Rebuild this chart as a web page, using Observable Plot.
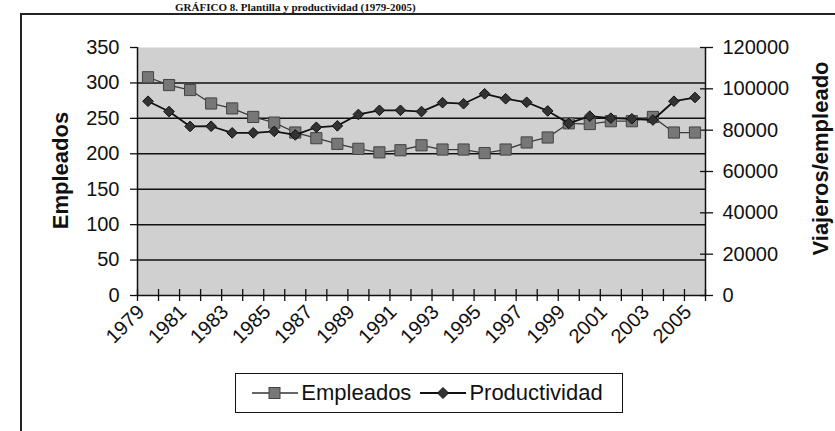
<!DOCTYPE html>
<html><head><meta charset="utf-8">
<script src="https://cdn.jsdelivr.net/npm/d3@7"></script>
<script src="https://cdn.jsdelivr.net/npm/@observablehq/plot@0.6"></script>
<style>
body{margin:0;background:#fff;}
#wrap{position:relative;width:835px;height:431px;overflow:hidden;font-family:"Liberation Sans",Arial,sans-serif;color:#111;}
#frame{position:absolute;left:20px;top:13px;width:830px;height:430px;border-top:2px solid #222;border-left:2px solid #222;}
#title{position:absolute;left:175px;top:1px;font:bold 11px/12px "Liberation Serif",serif;color:#111;white-space:nowrap;}
#chart{position:absolute;left:0;top:0;}
#legend{position:absolute;left:235px;top:373px;width:386px;height:38px;border:1.5px solid #111;background:#fff;display:flex;align-items:center;justify-content:center;font-size:22px;}
#legend svg{margin:0 3px;}
#legend span{margin-right:6px;}
</style></head>
<body>
<div id="wrap">
  <div id="frame"></div>
  <div id="title">GRÁFICO 8. Plantilla y productividad (1979-2005)</div>
  <div id="chart"></div>
  <div id="legend">
    <svg width="46" height="16"><line x1="0" y1="8" x2="46" y2="8" stroke="#333" stroke-width="1.3"/><rect x="17" y="2.5" width="11" height="11" fill="#777" stroke="#444"/></svg><span>Empleados</span>
    <svg width="46" height="16"><line x1="0" y1="8" x2="46" y2="8" stroke="#111" stroke-width="1.8"/><path d="M23,2.5L28.5,8L23,13.5L17.5,8Z" fill="#333" stroke="#111"/></svg><span>Productividad</span>
  </div>
</div>
<script>
const years = [1979,1980,1981,1982,1983,1984,1985,1986,1987,1988,1989,1990,1991,1992,1993,1994,1995,1996,1997,1998,1999,2000,2001,2002,2003,2004,2005];
const empleados = [308,297,290,271,264,252,244,230,222,214,207,202,205,212,206,206,201,206,216,223,243,242,246,246,252,230,230];
const productividad = [94000,89000,81800,81900,78700,78700,79400,77700,81400,82100,87600,89600,89600,89000,93300,92800,97600,95200,93500,89300,83300,86800,85800,85500,84900,94000,95800];
const leftTicks = [0,50,100,150,200,250,300,350];
const rightTicks = [0,20000,40000,60000,80000,100000,120000];
const gridValues = [50,100,150,200,250,300];
const yearLabels = [1979,1981,1983,1985,1987,1989,1991,1993,1995,1997,1999,2001,2003,2005];

const K = 350/120000; // right axis mapped onto left-axis scale
const rows = years.map((y,i)=>({year:y, emp:empleados[i], prod:productividad[i]*K}));
const bounds = years.map(y=>y-0.5).concat([years[years.length-1]+0.5]);
const xDomain = [bounds[0], bounds[bounds.length-1]];

const chart = Plot.plot({
  width:835, height:431,
  marginLeft:137, marginRight:130, marginTop:47, marginBottom:136,
  x:{domain:xDomain, axis:null},
  y:{domain:[0,350], axis:null},
  style:{fontFamily:"Liberation Sans, Arial, sans-serif", fontSize:"20px", color:"#111", background:"transparent"},
  marks:[
    Plot.frame({fill:"#d0d0d0", stroke:null}),
    Plot.ruleY(gridValues, {stroke:"#111", strokeWidth:1.5}),
    Plot.ruleX(xDomain, {stroke:"#111", strokeWidth:1.5}),
    Plot.ruleY([0], {stroke:"#111", strokeWidth:1.5}),
    Plot.axisY(leftTicks, {anchor:"left", label:null, tickSize:7, tickPadding:11, fontSize:20, tickFormat:d=>String(d), strokeWidth:1.3}),
    Plot.axisY(rightTicks.map(v=>v*K), {anchor:"right", label:null, tickSize:7, tickPadding:10, fontSize:20, tickFormat:d=>String(Math.round(d/K)), strokeWidth:1.3}),
    Plot.axisY(rightTicks.map(v=>v*K), {anchor:"right", label:null, tickSize:-6, tickFormat:()=>"", strokeWidth:1.3}),
    Plot.axisX(bounds, {anchor:"bottom", label:null, tickSize:6, tickFormat:()=>"", strokeWidth:1.3}),
    Plot.axisX(bounds, {anchor:"bottom", label:null, tickSize:-6, tickFormat:()=>"", strokeWidth:1.3}),
    Plot.text(yearLabels, {x:d=>d, y:()=>0, text:d=>String(d), rotate:-45, textAnchor:"end", dx:-7, dy:13, fontSize:20}),
    Plot.text(["Empleados"], {frameAnchor:"left", textAnchor:"middle", rotate:-90, dx:-77, dy:-1, fontWeight:"bold", fontSize:22}),
    Plot.text(["Viajeros/empleado"], {frameAnchor:"right", textAnchor:"middle", rotate:-90, dx:115, dy:-13, fontWeight:"bold", fontSize:22}),
    Plot.line(rows, {x:"year", y:"emp", stroke:"#3a3a3a", strokeWidth:1.3}),
    Plot.dot(rows, {x:"year", y:"emp", symbol:"square", r:6.3, fill:"#777", stroke:"#444", strokeWidth:1}),
    Plot.line(rows, {x:"year", y:"prod", stroke:"#111", strokeWidth:1.8}),
    Plot.dot(rows, {x:"year", y:"prod", symbol:"diamond2", r:4.8, fill:"#333", stroke:"#111", strokeWidth:1})
  ]
});
document.getElementById("chart").appendChild(chart);
</script>
</body></html>
